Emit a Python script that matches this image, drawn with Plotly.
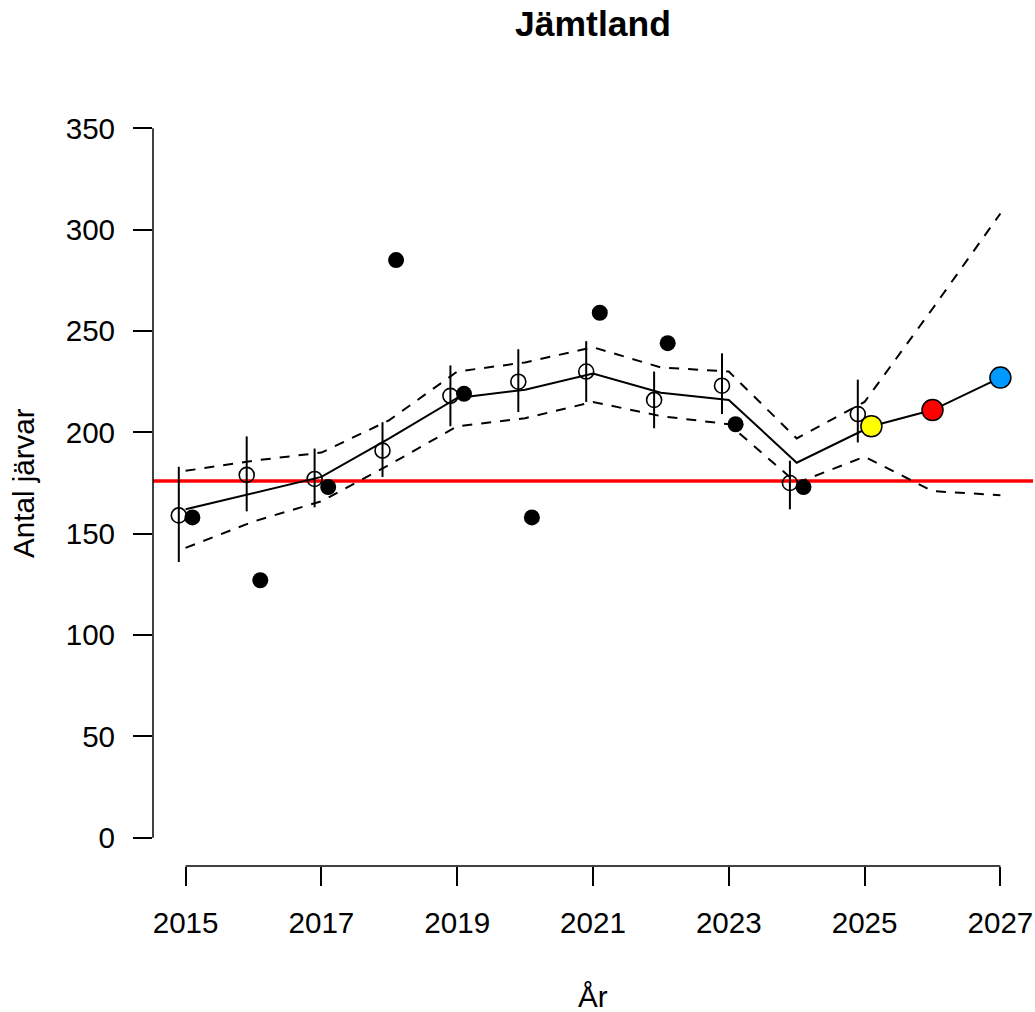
import plotly.graph_objects as go

# values
years = list(range(2015, 2028))
est_years = list(range(2015, 2026))
obs_years = list(range(2015, 2025))
fit_years = list(range(2015, 2025))
fc_years = [2025.1, 2026, 2027]

est = [159, 179, 177, 191, 218, 225, 230, 216, 223, 175, 209]
est_lo = [136, 161, 163, 178, 203, 210, 215, 202, 209, 162, 195]
est_hi = [183, 198, 192, 205, 233, 241, 245, 230, 239, 186, 226]

obs = [158, 127, 173, 285, 219, 158, 259, 244, 204, 173]

fit = [162, 170, 178, 197, 217, 221, 229, 219.5, 216, 185]
fc = [203, 211, 227]
fc_colors = ["#FFFF00", "#FF0000", "#0099FF"]

ci_hi = [181, 186, 190, 206, 230, 234.5, 242, 232, 230, 197, 215, 261, 308]
ci_lo = [143, 156, 166, 184, 203, 207, 215, 208, 204, 175, 188, 171, 169]

ref_level = 176

title = "Jämtland"
xlab = "År"
ylab = "Antal järvar"
xticks = [2015, 2017, 2019, 2021, 2023, 2025, 2027]
yticks = [0, 50, 100, 150, 200, 250, 300, 350]

FONT = "Liberation Sans, Arial, Helvetica, sans-serif"
FS = 29.6

fig = go.Figure()

for ci in (ci_hi, ci_lo):
    fig.add_trace(go.Scatter(x=years, y=ci, mode="lines",
                             line=dict(color="black", width=2, dash="10px,9px")))

fig.add_trace(go.Scatter(x=fit_years + fc_years, y=fit + fc, mode="lines",
                         line=dict(color="black", width=2)))

# estimates drawn a bit left of the year, observations a bit right
fig.add_trace(go.Scatter(
    x=[y - 0.1 for y in est_years], y=est, mode="markers",
    marker=dict(symbol="circle-open", size=15, color="black", line=dict(width=1.6)),
    error_y=dict(type="data", symmetric=False,
                 array=[h - e for h, e in zip(est_hi, est)],
                 arrayminus=[e - l for e, l in zip(est, est_lo)],
                 width=0, thickness=2, color="black"),
))

fig.add_trace(go.Scatter(x=[y + 0.1 for y in obs_years], y=obs, mode="markers",
                         marker=dict(size=16, color="black")))

fig.add_trace(go.Scatter(x=fc_years, y=fc, mode="markers",
                         marker=dict(size=21, color=fc_colors, line=dict(color="black", width=1.5))))

# reference level
fig.add_shape(type="line", xref="paper", x0=0, x1=1, yref="y", y0=ref_level, y1=ref_level,
              line=dict(color="#FF0000", width=3.5), layer="below")

# R-style axis lines that only span the tick range
fig.add_shape(type="line", xref="x", x0=xticks[0], x1=xticks[-1], yref="paper", y0=0, y1=0,
              line=dict(color="black", width=1.5))
fig.add_shape(type="line", xref="paper", x0=0, x1=0, yref="y", y0=yticks[0], y1=yticks[-1],
              line=dict(color="black", width=1.5))

fig.update_layout(
    width=1035, height=1012,
    margin=dict(l=153, r=2, t=100, b=146),
    paper_bgcolor="white", plot_bgcolor="white",
    showlegend=False,
    font=dict(family=FONT, size=FS, color="black"),
    title=dict(text=f"<b>{title}</b>", x=0.5, xref="paper", y=1 - 24 / 1012, yref="container",
               xanchor="center", yanchor="middle", font=dict(size=FS * 1.2)),
    xaxis=dict(range=[2014.52, 2027.48], tickvals=xticks, ticks="outside", ticklen=19,
               tickwidth=1.5, tickcolor="black", showgrid=False, zeroline=False, showline=False,
               ticklabelstandoff=11),
    yaxis=dict(range=[-14, 364], tickvals=yticks, ticks="outside", ticklen=19,
               tickwidth=1.5, tickcolor="black", showgrid=False, zeroline=False, showline=False,
               ticklabelstandoff=12),
    annotations=[
        dict(text=xlab, xref="paper", yref="paper", x=0.5, y=0, yshift=-130,
             showarrow=False, xanchor="center", yanchor="middle"),
        dict(text=ylab, xref="paper", yref="paper", x=0, y=0.5, xshift=-130, textangle=-90,
             showarrow=False, xanchor="center", yanchor="middle"),
    ],
)

# drop the default 8px page margin so the figure fills the window exactly
fig.write_html("out.html", config={"displayModeBar": False},
               post_script="document.body.style.margin = '0';")
